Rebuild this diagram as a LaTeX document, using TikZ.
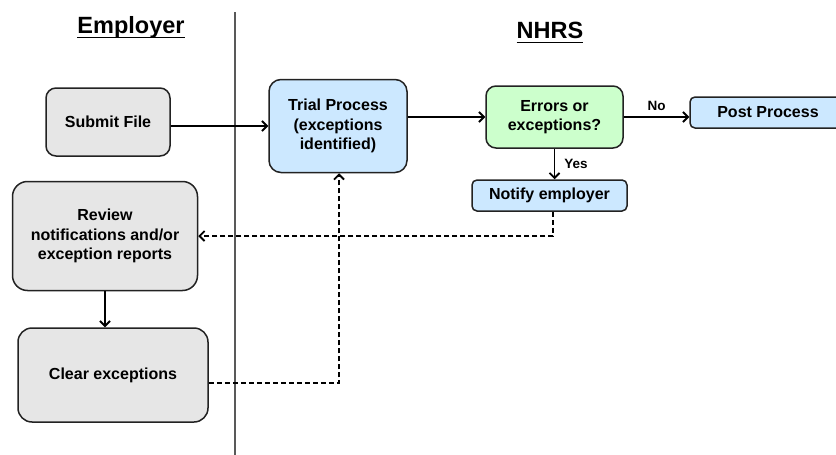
\documentclass[tikz,border=0pt]{standalone}
\usepackage{fontspec}
\setmainfont{Liberation Sans}
\usetikzlibrary{arrows.meta}
\definecolor{boxgray}{HTML}{E6E6E6}
\definecolor{boxblue}{HTML}{CCE8FF}
\definecolor{boxgreen}{HTML}{CCFFCC}
\definecolor{edgedark}{HTML}{222222}
\begin{document}
\begin{tikzpicture}[x=1pt, y=-1pt,
  box/.style={draw=edgedark, line width=1.5pt, rounded corners=10pt, align=center, inner sep=0pt,
    font=\fontsize{16}{19.5}\selectfont\bfseries},
  emp/.style={box, fill=boxgray},
  nh/.style={box, fill=boxblue},
  dec/.style={box, fill=boxgreen},
  head/.style={inner sep=0pt, anchor=base, font=\fontsize{23.5}{27}\selectfont\bfseries},
  lbl/.style={inner sep=0pt, font=\fontsize{13.5}{16}\selectfont\bfseries},
  e/.style={line width=1.8pt, -{Straight Barb[length=5pt, width=10pt]}},
  ed/.style={e, dash pattern=on 5pt off 3pt}]
\useasboundingbox (0,0) rectangle (836,455);
\draw[line width=1.5pt, black!65] (235,12) -- (235,455);
\node[head] (hemp) at (131,33) {Employer};
\node[head] (hnh) at (550,38) {NHRS};
\draw[line width=1.9pt] ([yshift=-4.5pt]hemp.base west) -- ([yshift=-4.5pt]hemp.base east);
\draw[line width=1.9pt] ([yshift=-4.5pt]hnh.base west) -- ([yshift=-4.5pt]hnh.base east);
\node[emp, minimum width=124pt, minimum height=68pt] (submit) at (108,122) {Submit File};
\node[nh, minimum width=138pt, minimum height=93pt, rounded corners=12pt] (trial) at (338,126) {Trial Process\\(exceptions\\identified)};
\node[dec, minimum width=137pt, minimum height=62pt] (errors) at (554.5,117) {Errors or\\exceptions?};
\node[nh, minimum width=156pt, minimum height=31pt, rounded corners=5pt] (post) at (768,112.5) {Post Process};
\node[nh, minimum width=155pt, minimum height=31pt, rounded corners=5pt] (notify) at (549.5,195.5) {Notify employer};
\node[emp, minimum width=185pt, minimum height=109pt, rounded corners=15pt] (review) at (105,236) {Review\\notifications and/or\\exception reports};
\node[emp, minimum width=190pt, minimum height=94pt, rounded corners=14pt] (clear) at (113,375) {Clear exceptions};
\draw[e] (submit.east |- trial) -- (trial.west);
\draw[e] (trial.east |- errors.west) -- (errors.west);
\draw[e] (errors.east) -- (errors.east -| post.west) node[lbl, midway, above=5pt] {No};
\draw[e] (errors.south) -- (errors.south |- notify.north) node[lbl, midway, right=9pt] {Yes};
\draw[ed] ([xshift=3.5pt]notify.south) |- (review.east);
\draw[e] (review.south) -- (review.south |- clear.north);
\draw[ed] ([yshift=-8pt]clear.east) -| ([xshift=1pt]trial.south);
\end{tikzpicture}
\end{document}
